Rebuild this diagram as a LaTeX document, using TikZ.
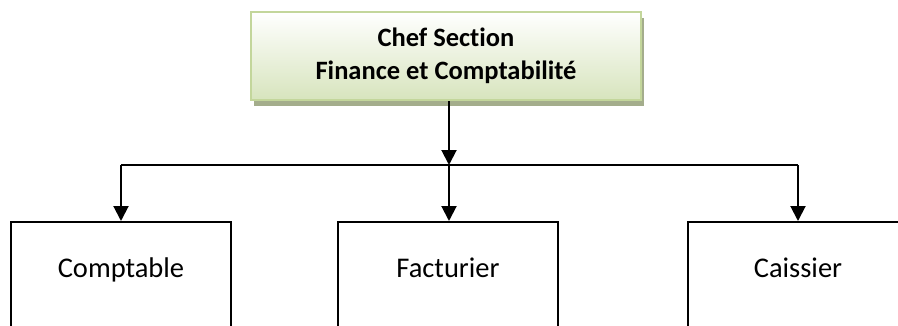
\documentclass[tikz,border=0pt]{standalone}
\usepackage{fontspec}
\setmainfont{Carlito}[Ligatures=NoCommon]
\usetikzlibrary{arrows.meta,shadows,calc}
\definecolor{boxborder}{HTML}{C3D69B}
\definecolor{boxbottom}{HTML}{D7E4BD}
\definecolor{shadowcol}{HTML}{A4AD8C}
\tikzset{
  chefbox/.style={draw=boxborder, line width=2pt, top color=white, bottom color=boxbottom,
    minimum width=390pt, minimum height=88pt, inner sep=0pt, align=center,
    font=\bfseries\fontsize{26.5}{33}\selectfont,
    general shadow={shadow xshift=3pt, shadow yshift=-6pt, fill=shadowcol}},
  rolebox/.style={draw=black, line width=1.5pt, minimum width=220pt, anchor=north,
    text height=20pt, text depth=100pt, inner ysep=36pt, inner xsep=0pt,
    font=\fontsize{28.5}{34}\selectfont},
  arr/.style={line width=2pt, -{Triangle[length=15pt,width=15pt]}},
  plainline/.style={line width=2pt}
}
\begin{document}
\begin{tikzpicture}[x=1pt,y=1pt]
\useasboundingbox (0,0) rectangle (898,325);
\clip (0,0) rectangle (898,325);
\node[chefbox] (chef) at (446,269) {Chef Section\\Finance et Comptabilité};
\node[rolebox] (comptable) at (121,104) {Comptable};
\node[rolebox] (facturier) at (448,104) {Facturier};
\node[rolebox] (caissier) at (798,104) {Caissier};
\coordinate (hub) at (449,160);
\draw[arr] (hub |- chef.south) -- (hub);
\draw[plainline] (comptable.north |- hub) -- (caissier.north |- hub);
\draw[arr] (comptable.north |- hub) -- (comptable.north);
\draw[arr] (hub) -- (hub |- facturier.north);
\draw[arr] (caissier.north |- hub) -- (caissier.north);
\end{tikzpicture}
\end{document}
